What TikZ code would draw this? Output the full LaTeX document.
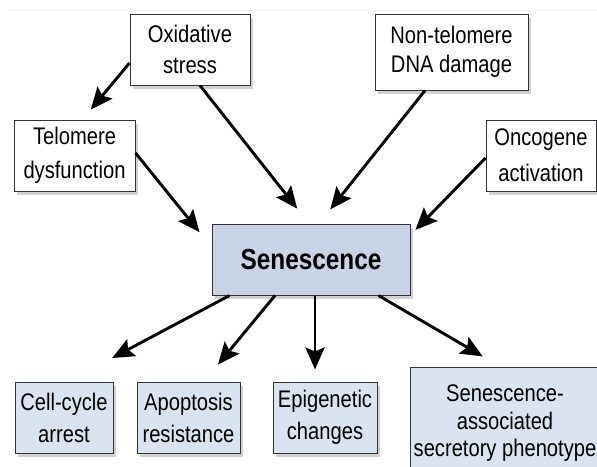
\documentclass[tikz,border=0pt]{standalone}
\usepackage{fontspec}
\setmainfont{Liberation Sans}[FakeStretch=0.84]
\usetikzlibrary{arrows.meta,shadows}
\definecolor{senfill}{RGB}{200,212,230}
\definecolor{outfill}{RGB}{218,227,240}
\definecolor{boxline}{RGB}{50,50,55}
\tikzset{
  box/.style={draw=boxline, line width=1pt, align=center, inner sep=2pt,
    font=\fontsize{24}{32}\selectfont,
    drop shadow={shadow xshift=3pt, shadow yshift=-4pt, opacity=0.3, fill=black!60}},
  inbox/.style={box, fill=white},
  outbox/.style={box, fill=outfill},
  senbox/.style={box, fill=senfill, font=\fontsize{29}{32}\selectfont\bfseries},
  arr/.style={line width=2.9pt, -{Stealth[length=22pt,width=19pt,inset=4pt]}}
}
\begin{document}
\begin{tikzpicture}[x=1pt,y=-1pt]
\useasboundingbox (0,0) rectangle (597,466);
\draw[gray!12, line width=0.8pt] (8,10) -- (597,10);
\node[inbox, minimum width=120, minimum height=71, font=\fontsize{24}{31}\selectfont] (ox) at (190,49.5) {Oxidative\\stress};
\node[inbox, minimum width=121, minimum height=71, font=\fontsize{24}{34}\selectfont] (tel) at (74.5,155.5) {Telomere\\dysfunction};
\node[inbox, minimum width=153, minimum height=76, font=\fontsize{24}{29}\selectfont] (ntd) at (451.5,52) {Non-telomere\\DNA damage};
\node[inbox, minimum width=110, minimum height=71, font=\fontsize{24}{36}\selectfont] (onc) at (541,155.5) {Oncogene\\activation};
\node[senbox, minimum width=198, minimum height=71] (sen) at (311,259.5) {Senescence};
\node[outbox, minimum width=98, minimum height=71] (cc) at (64,417.5) {Cell-cycle\\arrest};
\node[outbox, minimum width=103, minimum height=71] (apo) at (188.5,417.5) {Apoptosis\\resistance};
\node[outbox, minimum width=104, minimum height=71] (epi) at (325,417.5) {Epigenetic\\changes};
\node[outbox, minimum width=190, minimum height=108, font=\fontsize{24}{27.5}\selectfont, text depth=0pt] (sasp) at (505,421) {Senescence-\\associated\\secretory phenotype};
% inputs
\draw[arr, shorten >=13pt] ([yshift=-13.5pt]ox.west) -- ([xshift=8pt]tel.north);
\draw[arr, shorten >=19pt] ([xshift=10pt]ox.south) -- ([xshift=-2pt]sen.north);
\draw[arr, shorten >=19pt] ([yshift=2.5pt]tel.east) -- ([yshift=12.5pt]sen.west);
\draw[arr, shorten >=18pt] ([xshift=-26.5pt]ntd.south) -- ([xshift=8pt]sen.north);
\draw[arr, shorten >=7pt] ([yshift=-2.5pt]onc.west) -- ([yshift=24.5pt]sen.east);
% outputs
\draw[arr, shorten >=50pt] ([xshift=18pt]sen.south west) -- ([xshift=4pt]cc.north);
\draw[arr, shorten >=22pt] ([xshift=-36pt]sen.south) -- ([xshift=15.5pt]apo.north);
\draw[arr, shorten >=12pt] ([xshift=4pt]sen.south) -- ([xshift=-10pt]epi.north);
\draw[arr, shorten >=20pt] ([xshift=-32pt]sen.south east) -- ([xshift=-5pt]sasp.north);
\end{tikzpicture}
\end{document}
